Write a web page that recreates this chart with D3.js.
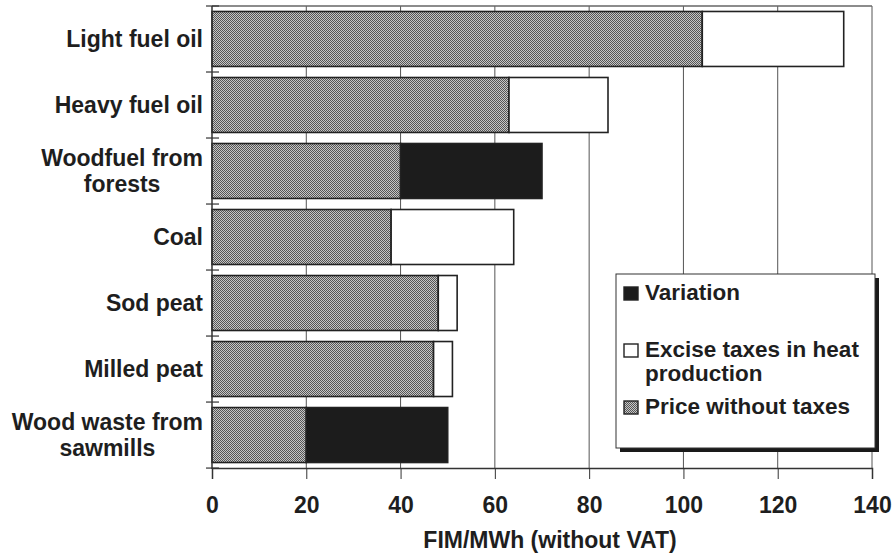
<!DOCTYPE html>
<html>
<head>
<meta charset="utf-8">
<script src="https://cdn.jsdelivr.net/npm/d3@7"></script>
<style>
  body { margin: 0; background: #fff; }
  text { font-family: "Liberation Sans", Arial, sans-serif; font-weight: bold; fill: #1e1e1e; }
</style>
</head>
<body>
<div id="container"></div>
<script>
// data
let categories = ['Light fuel oil', 'Heavy fuel oil', 'Woodfuel from|forests', 'Coal',
  'Sod peat', 'Milled peat', 'Wood waste from|sawmills']
let price = [104, 63, 40, 38, 48, 47, 20]      // Price without taxes
let excise = [30, 21, 0, 26, 4, 4, 0]          // Excise taxes in heat production
let variation = [0, 0, 30, 0, 0, 0, 30]        // Variation
let xTicks = [0, 20, 40, 60, 80, 100, 120, 140]
let legendItems = [
  { key: 'variation', lines: ['Variation'] },
  { key: 'excise', lines: ['Excise taxes in heat', 'production'] },
  { key: 'price', lines: ['Price without taxes'] }
]

let width = 894,
  height = 559,
  plot = { left: 212, right: 872, top: 6, bottom: 468 }

let svg = d3.select('#container')
  .append('svg')
  .attr('width', width)
  .attr('height', height)

// halftone-like fill for the price segment
let pat = svg.append('defs').append('pattern')
  .attr('id', 'dots')
  .attr('width', 2)
  .attr('height', 2)
  .attr('patternUnits', 'userSpaceOnUse')
pat.append('rect').attr('width', 2).attr('height', 2).attr('fill', '#c6c6c6')
pat.append('rect').attr('width', 1).attr('height', 1).attr('fill', '#555')
pat.append('rect').attr('x', 1).attr('y', 1).attr('width', 1).attr('height', 1).attr('fill', '#555')

let fills = { price: 'url(#dots)', excise: '#fff', variation: '#1c1c1c' }

// scales
let x = d3.scaleLinear()
  .domain([0, 140])
  .range([plot.left, plot.right])

let y = d3.scaleBand()
  .domain(d3.range(categories.length))
  .range([plot.top, plot.bottom])
  .paddingInner(0.167)
  .paddingOuter(0.083)

let step = y.step()

// grid
svg.append('g')
  .selectAll('line')
  .data(xTicks.slice(1))
  .enter().append('line')
  .attr('x1', d => x(d)).attr('x2', d => x(d))
  .attr('y1', plot.top).attr('y2', plot.bottom)
  .attr('stroke', '#555')
  .attr('stroke-width', 1)

// top border
svg.append('line')
  .attr('x1', plot.left).attr('x2', plot.right)
  .attr('y1', plot.top).attr('y2', plot.top)
  .attr('stroke', '#666')
  .attr('stroke-width', 1.5)

// bars
let segs = []
categories.forEach(function (c, i) {
  segs.push({ i: i, key: 'price', x0: 0, x1: price[i] })
  if (excise[i] > 0) segs.push({ i: i, key: 'excise', x0: price[i], x1: price[i] + excise[i] })
  if (variation[i] > 0) segs.push({ i: i, key: 'variation', x0: price[i], x1: price[i] + variation[i] })
})

svg.append('g')
  .selectAll('rect')
  .data(segs)
  .enter().append('rect')
  .attr('x', d => x(d.x0))
  .attr('y', d => y(d.i))
  .attr('width', d => x(d.x1) - x(d.x0))
  .attr('height', y.bandwidth())
  .attr('fill', d => fills[d.key])
  .attr('stroke', '#222')
  .attr('stroke-width', 1.6)

// x axis
let xAxis = d3.axisBottom(x)
  .tickValues(xTicks)
  .tickSize(11)
  .tickPadding(18)

let gx = svg.append('g')
  .attr('transform', 'translate(0,' + plot.bottom + ')')
  .call(xAxis)
gx.select('.domain').attr('stroke', '#333').attr('stroke-width', 1.5)
gx.selectAll('.tick line').attr('stroke', '#333')
gx.selectAll('.tick text')
  .attr('font-size', 23)
  .attr('font-family', null)
  .attr('fill', null)

// y axis line + ticks at band boundaries
svg.append('line')
  .attr('x1', plot.left).attr('x2', plot.left)
  .attr('y1', plot.top).attr('y2', plot.bottom + 1)
  .attr('stroke', '#333')
  .attr('stroke-width', 1.5)

svg.append('g')
  .selectAll('line')
  .data(d3.range(categories.length + 1))
  .enter().append('line')
  .attr('x1', plot.left - 6).attr('x2', plot.left + 7)
  .attr('y1', d => plot.top + d * step)
  .attr('y2', d => plot.top + d * step)
  .attr('stroke', '#333')
  .attr('stroke-width', 1.2)

// category labels
let labels = svg.append('g')
categories.forEach(function (c, i) {
  let lines = c.split('|')
  let cy = y(i) + y.bandwidth() / 2
  let t = labels.append('text')
    .attr('font-size', 23)
  if (lines.length === 1) {
    t.attr('x', 203).attr('y', cy + 8).attr('text-anchor', 'end').text(c)
  } else {
    t.attr('text-anchor', 'middle')
    lines.forEach(function (l, j) {
      t.append('tspan').attr('y', cy - 5 + j * 26).text(l)
    })
    let w = d3.max(t.selectAll('tspan').nodes(), n => n.getComputedTextLength())
    t.selectAll('tspan').attr('x', 203 - w / 2)
  }
})

// x axis title
svg.append('text')
  .attr('x', (plot.left + plot.right) / 2 + 8)
  .attr('y', 548)
  .attr('text-anchor', 'middle')
  .attr('font-size', 23)
  .text('FIM/MWh (without VAT)')

// legend
let lg = svg.append('g').attr('transform', 'translate(616,274)')
lg.append('rect')
  .attr('x', 4).attr('y', 4)
  .attr('width', 259).attr('height', 174)
  .attr('fill', '#1a1a1a')
lg.append('rect')
  .attr('width', 259).attr('height', 174)
  .attr('fill', '#fff')
  .attr('stroke', '#333')
  .attr('stroke-width', 1)

let legendY = [26, 83, 140]
legendItems.forEach(function (item, i) {
  let gy = legendY[i]
  lg.append('rect')
    .attr('x', 8).attr('y', gy - 13)
    .attr('width', 14).attr('height', 13)
    .attr('fill', fills[item.key])
    .attr('stroke', '#222')
    .attr('stroke-width', 1.4)
  let t = lg.append('text').attr('font-size', 22.5)
  item.lines.forEach(function (l, j) {
    t.append('tspan').attr('x', 29).attr('y', gy + j * 24).text(l)
  })
})
</script>
</body>
</html>
